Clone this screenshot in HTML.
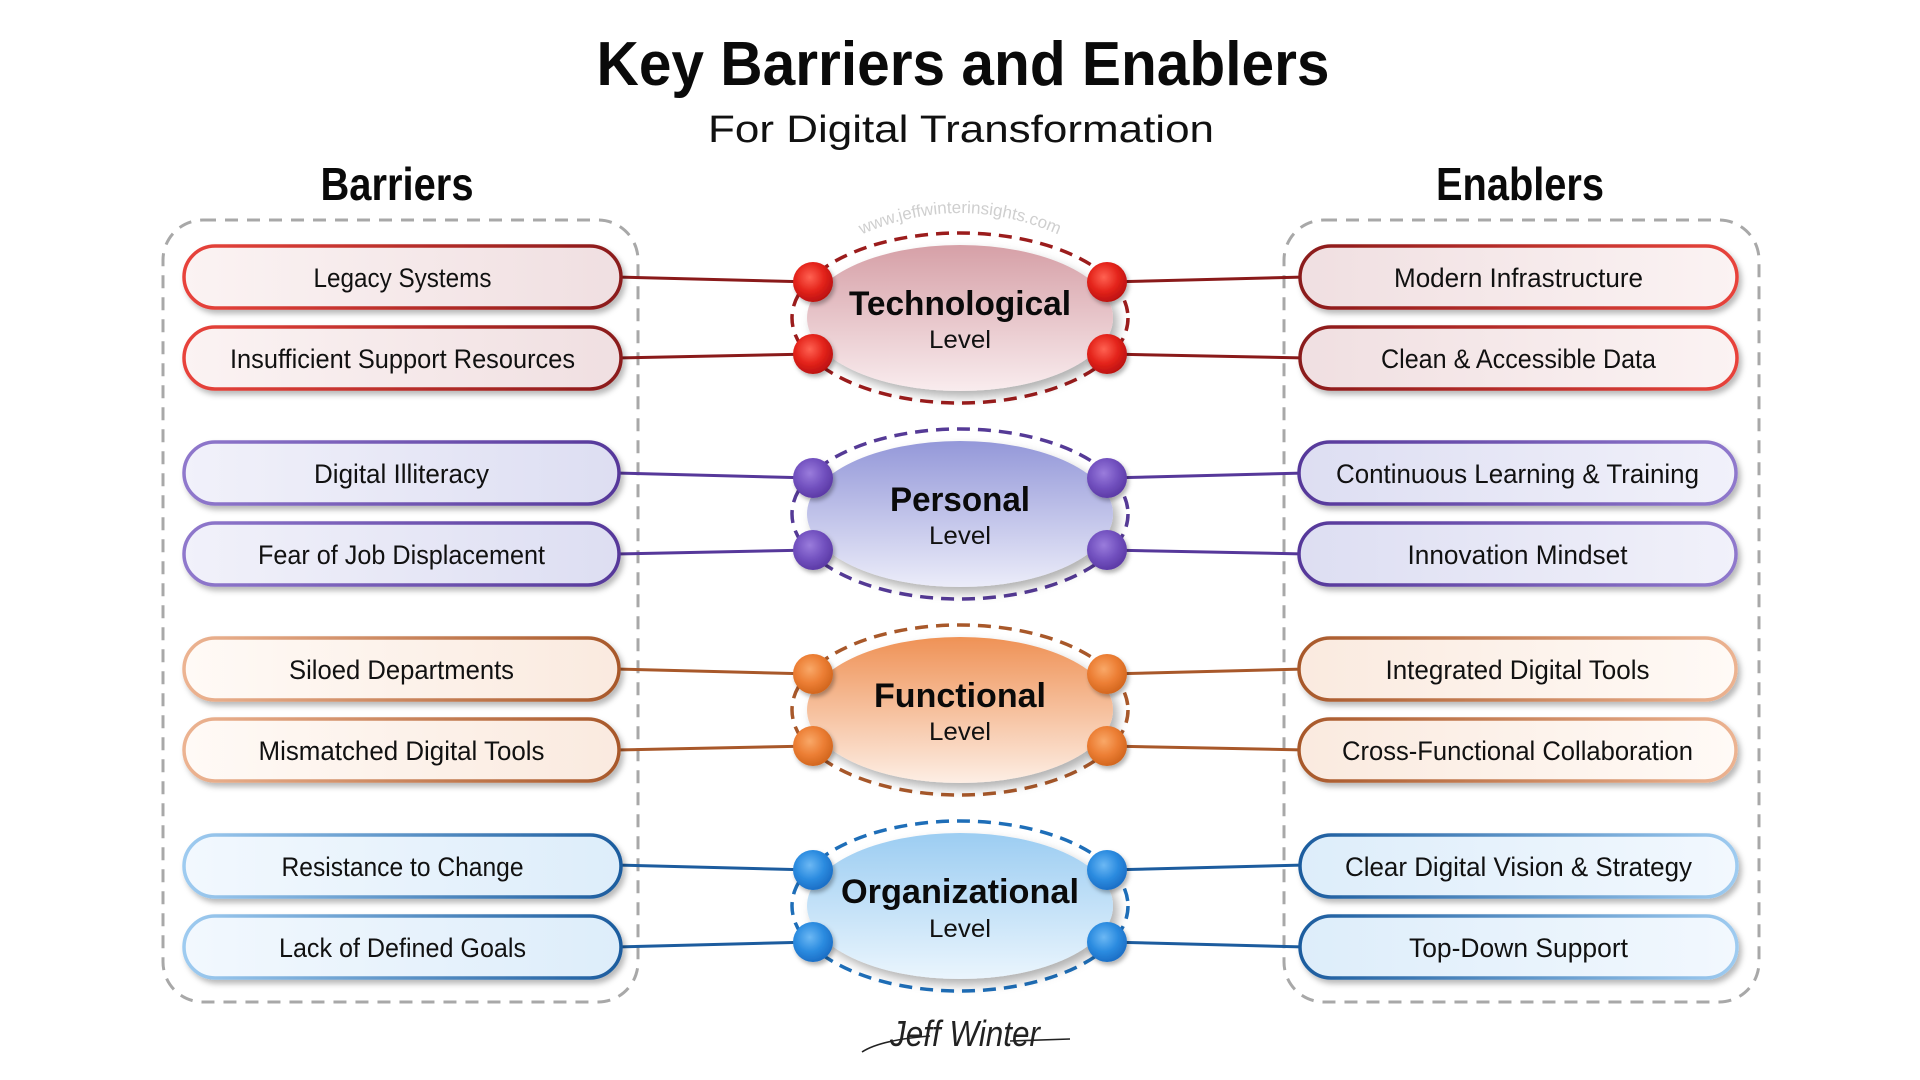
<!DOCTYPE html>
<html><head><meta charset="utf-8"><style>
html,body{margin:0;padding:0;background:#fff;}
svg{display:block;}
text{font-family:"Liberation Sans",sans-serif;}
</style></head><body>
<svg width="1920" height="1080" viewBox="0 0 1920 1080" xmlns="http://www.w3.org/2000/svg">
<defs>
<filter id="sh" x="-10%" y="-30%" width="125%" height="170%"><feDropShadow dx="3" dy="4" stdDeviation="3" flood-color="#000" flood-opacity="0.28"/></filter>
<filter id="esh" x="-10%" y="-20%" width="125%" height="150%"><feDropShadow dx="5" dy="6" stdDeviation="5" flood-color="#000" flood-opacity="0.3"/></filter>
<filter id="bsh" x="-40%" y="-40%" width="190%" height="190%"><feDropShadow dx="2" dy="3" stdDeviation="2" flood-color="#000" flood-opacity="0.3"/></filter>

<linearGradient id="rSL"><stop offset="0" stop-color="#e8433b"/><stop offset="1" stop-color="#8a1a1a"/></linearGradient>
<linearGradient id="rSR"><stop offset="0" stop-color="#8a1a1a"/><stop offset="1" stop-color="#e8433b"/></linearGradient>
<linearGradient id="rFL"><stop offset="0" stop-color="#fbf3f3"/><stop offset="1" stop-color="#f0dfe1"/></linearGradient>
<linearGradient id="rFR"><stop offset="0" stop-color="#f0dfe1"/><stop offset="1" stop-color="#fbf3f3"/></linearGradient>
<linearGradient id="rE" x1="0" y1="0" x2="0" y2="1"><stop offset="0" stop-color="#d6a0a7"/><stop offset="1" stop-color="#f9ecee"/></linearGradient>
<radialGradient id="rB" cx="0.42" cy="0.38" r="0.65"><stop offset="0" stop-color="#ff6252"/><stop offset="0.55" stop-color="#e4241b"/><stop offset="1" stop-color="#b80f0f"/></radialGradient>

<linearGradient id="pSL"><stop offset="0" stop-color="#8f78cc"/><stop offset="1" stop-color="#56389a"/></linearGradient>
<linearGradient id="pSR"><stop offset="0" stop-color="#56389a"/><stop offset="1" stop-color="#8f78cc"/></linearGradient>
<linearGradient id="pFL"><stop offset="0" stop-color="#f1f1fa"/><stop offset="1" stop-color="#dddef2"/></linearGradient>
<linearGradient id="pFR"><stop offset="0" stop-color="#dddef2"/><stop offset="1" stop-color="#f1f1fa"/></linearGradient>
<linearGradient id="pE" x1="0" y1="0" x2="0" y2="1"><stop offset="0" stop-color="#9498d9"/><stop offset="1" stop-color="#ebecf9"/></linearGradient>
<radialGradient id="pB" cx="0.42" cy="0.38" r="0.65"><stop offset="0" stop-color="#9a7cdc"/><stop offset="0.55" stop-color="#7352c0"/><stop offset="1" stop-color="#5a38a4"/></radialGradient>

<linearGradient id="oSL"><stop offset="0" stop-color="#ecb391"/><stop offset="1" stop-color="#a8582a"/></linearGradient>
<linearGradient id="oSR"><stop offset="0" stop-color="#a8582a"/><stop offset="1" stop-color="#ecb391"/></linearGradient>
<linearGradient id="oFL"><stop offset="0" stop-color="#fffaf6"/><stop offset="1" stop-color="#faeadf"/></linearGradient>
<linearGradient id="oFR"><stop offset="0" stop-color="#faeadf"/><stop offset="1" stop-color="#fffaf6"/></linearGradient>
<linearGradient id="oE" x1="0" y1="0" x2="0" y2="1"><stop offset="0" stop-color="#ef9256"/><stop offset="1" stop-color="#fdeee4"/></linearGradient>
<radialGradient id="oB" cx="0.42" cy="0.38" r="0.65"><stop offset="0" stop-color="#f9a868"/><stop offset="0.55" stop-color="#ec7e34"/><stop offset="1" stop-color="#d0641c"/></radialGradient>

<linearGradient id="bSL"><stop offset="0" stop-color="#9ecbf0"/><stop offset="1" stop-color="#1c5c9e"/></linearGradient>
<linearGradient id="bSR"><stop offset="0" stop-color="#1c5c9e"/><stop offset="1" stop-color="#9ecbf0"/></linearGradient>
<linearGradient id="bFL"><stop offset="0" stop-color="#f2f8fe"/><stop offset="1" stop-color="#ddedfa"/></linearGradient>
<linearGradient id="bFR"><stop offset="0" stop-color="#ddedfa"/><stop offset="1" stop-color="#f2f8fe"/></linearGradient>
<linearGradient id="bE" x1="0" y1="0" x2="0" y2="1"><stop offset="0" stop-color="#9ccdf2"/><stop offset="1" stop-color="#eaf5fd"/></linearGradient>
<radialGradient id="bB" cx="0.42" cy="0.38" r="0.65"><stop offset="0" stop-color="#6cb8f4"/><stop offset="0.55" stop-color="#2c8ce0"/><stop offset="1" stop-color="#1a6cc4"/></radialGradient>

<path id="wm" d="M846,242 Q960,184 1074,242"/>
</defs>

<text x="963" y="85" font-size="62" font-weight="bold" text-anchor="middle" textLength="733" lengthAdjust="spacingAndGlyphs" fill="#0a0a0a">Key Barriers and Enablers</text>
<text x="961" y="142" font-size="38" text-anchor="middle" textLength="506" lengthAdjust="spacingAndGlyphs" fill="#111">For Digital Transformation</text>
<text x="397" y="200" font-size="46" font-weight="bold" text-anchor="middle" textLength="153" lengthAdjust="spacingAndGlyphs" fill="#0a0a0a">Barriers</text>
<text x="1520" y="200" font-size="46" font-weight="bold" text-anchor="middle" textLength="168" lengthAdjust="spacingAndGlyphs" fill="#0a0a0a">Enablers</text>

<rect x="163" y="220" width="475" height="782" rx="40" fill="none" stroke="#a8a8a8" stroke-width="3" stroke-dasharray="13 9"/>
<rect x="1284" y="220" width="475" height="782" rx="40" fill="none" stroke="#a8a8a8" stroke-width="3" stroke-dasharray="13 9"/>

<text font-size="17" fill="#cfcfcf"><textPath href="#wm" startOffset="50%" text-anchor="middle">www.jeffwinterinsights.com</textPath></text>

<!-- Technological -->
<g stroke="#8a1a1a" stroke-width="3">
<line x1="615" y1="277" x2="813" y2="282"/><line x1="615" y1="358" x2="813" y2="354"/>
<line x1="1107" y1="282" x2="1306" y2="277"/><line x1="1107" y1="354" x2="1306" y2="358"/>
</g>
<g stroke-width="3.5" filter="url(#sh)">
<rect x="184" y="246" width="437" height="62" rx="31" fill="url(#rFL)" stroke="url(#rSL)"/>
<rect x="184" y="327" width="437" height="62" rx="31" fill="url(#rFL)" stroke="url(#rSL)"/>
<rect x="1300" y="246" width="437" height="62" rx="31" fill="url(#rFR)" stroke="url(#rSR)"/>
<rect x="1300" y="327" width="437" height="62" rx="31" fill="url(#rFR)" stroke="url(#rSR)"/>
</g>
<g font-size="27" fill="#111" text-anchor="middle">
<text x="402.5" y="287" textLength="178" lengthAdjust="spacingAndGlyphs">Legacy Systems</text>
<text x="402.5" y="368" textLength="345" lengthAdjust="spacingAndGlyphs">Insufficient Support Resources</text>
<text x="1518.5" y="287" textLength="249" lengthAdjust="spacingAndGlyphs">Modern Infrastructure</text>
<text x="1518.5" y="368" textLength="275" lengthAdjust="spacingAndGlyphs">Clean &amp; Accessible Data</text>
</g>
<ellipse cx="960" cy="318" rx="168" ry="85" fill="none" stroke="#9b1c1c" stroke-width="3.5" stroke-dasharray="13 8"/>
<ellipse cx="960" cy="318" rx="153" ry="73" fill="url(#rE)" filter="url(#esh)"/>
<g fill="url(#rB)" filter="url(#bsh)">
<circle cx="813" cy="282" r="20"/><circle cx="813" cy="354" r="20"/><circle cx="1107" cy="282" r="20"/><circle cx="1107" cy="354" r="20"/>
</g>
<text x="960" y="315" font-size="34" font-weight="bold" text-anchor="middle" textLength="222" lengthAdjust="spacingAndGlyphs" fill="#0a0a0a">Technological</text>
<text x="960" y="348" font-size="25" text-anchor="middle" textLength="62" lengthAdjust="spacingAndGlyphs" fill="#111">Level</text>

<!-- Personal -->
<g stroke="#56389a" stroke-width="3">
<line x1="615" y1="473" x2="813" y2="478"/><line x1="615" y1="554" x2="813" y2="550"/>
<line x1="1107" y1="478" x2="1306" y2="473"/><line x1="1107" y1="550" x2="1306" y2="554"/>
</g>
<g stroke-width="3.5" filter="url(#sh)">
<rect x="184" y="442" width="435" height="62" rx="31" fill="url(#pFL)" stroke="url(#pSL)"/>
<rect x="184" y="523" width="435" height="62" rx="31" fill="url(#pFL)" stroke="url(#pSL)"/>
<rect x="1299" y="442" width="437" height="62" rx="31" fill="url(#pFR)" stroke="url(#pSR)"/>
<rect x="1299" y="523" width="437" height="62" rx="31" fill="url(#pFR)" stroke="url(#pSR)"/>
</g>
<g font-size="27" fill="#111" text-anchor="middle">
<text x="401.5" y="483" textLength="175" lengthAdjust="spacingAndGlyphs">Digital Illiteracy</text>
<text x="401.5" y="564" textLength="287" lengthAdjust="spacingAndGlyphs">Fear of Job Displacement</text>
<text x="1517.5" y="483" textLength="363" lengthAdjust="spacingAndGlyphs">Continuous Learning &amp; Training</text>
<text x="1517.5" y="564" textLength="220" lengthAdjust="spacingAndGlyphs">Innovation Mindset</text>
</g>
<ellipse cx="960" cy="514" rx="168" ry="85" fill="none" stroke="#553a96" stroke-width="3.5" stroke-dasharray="13 8"/>
<ellipse cx="960" cy="514" rx="153" ry="73" fill="url(#pE)" filter="url(#esh)"/>
<g fill="url(#pB)" filter="url(#bsh)">
<circle cx="813" cy="478" r="20"/><circle cx="813" cy="550" r="20"/><circle cx="1107" cy="478" r="20"/><circle cx="1107" cy="550" r="20"/>
</g>
<text x="960" y="511" font-size="34" font-weight="bold" text-anchor="middle" textLength="140" lengthAdjust="spacingAndGlyphs" fill="#0a0a0a">Personal</text>
<text x="960" y="544" font-size="25" text-anchor="middle" textLength="62" lengthAdjust="spacingAndGlyphs" fill="#111">Level</text>

<!-- Functional -->
<g stroke="#a8582a" stroke-width="3">
<line x1="615" y1="669" x2="813" y2="674"/><line x1="615" y1="750" x2="813" y2="746"/>
<line x1="1107" y1="674" x2="1306" y2="669"/><line x1="1107" y1="746" x2="1306" y2="750"/>
</g>
<g stroke-width="3.5" filter="url(#sh)">
<rect x="184" y="638" width="435" height="62" rx="31" fill="url(#oFL)" stroke="url(#oSL)"/>
<rect x="184" y="719" width="435" height="62" rx="31" fill="url(#oFL)" stroke="url(#oSL)"/>
<rect x="1299" y="638" width="437" height="62" rx="31" fill="url(#oFR)" stroke="url(#oSR)"/>
<rect x="1299" y="719" width="437" height="62" rx="31" fill="url(#oFR)" stroke="url(#oSR)"/>
</g>
<g font-size="27" fill="#111" text-anchor="middle">
<text x="401.5" y="679" textLength="225" lengthAdjust="spacingAndGlyphs">Siloed Departments</text>
<text x="401.5" y="760" textLength="286" lengthAdjust="spacingAndGlyphs">Mismatched Digital Tools</text>
<text x="1517.5" y="679" textLength="264" lengthAdjust="spacingAndGlyphs">Integrated Digital Tools</text>
<text x="1517.5" y="760" textLength="351" lengthAdjust="spacingAndGlyphs">Cross-Functional Collaboration</text>
</g>
<ellipse cx="960" cy="710" rx="168" ry="85" fill="none" stroke="#a8582a" stroke-width="3.5" stroke-dasharray="13 8"/>
<ellipse cx="960" cy="710" rx="153" ry="73" fill="url(#oE)" filter="url(#esh)"/>
<g fill="url(#oB)" filter="url(#bsh)">
<circle cx="813" cy="674" r="20"/><circle cx="813" cy="746" r="20"/><circle cx="1107" cy="674" r="20"/><circle cx="1107" cy="746" r="20"/>
</g>
<text x="960" y="707" font-size="34" font-weight="bold" text-anchor="middle" textLength="172" lengthAdjust="spacingAndGlyphs" fill="#0a0a0a">Functional</text>
<text x="960" y="740" font-size="25" text-anchor="middle" textLength="62" lengthAdjust="spacingAndGlyphs" fill="#111">Level</text>

<!-- Organizational -->
<g stroke="#1c5c9e" stroke-width="3">
<line x1="615" y1="865" x2="813" y2="870"/><line x1="615" y1="947" x2="813" y2="942"/>
<line x1="1107" y1="870" x2="1306" y2="865"/><line x1="1107" y1="942" x2="1306" y2="947"/>
</g>
<g stroke-width="3.5" filter="url(#sh)">
<rect x="184" y="835" width="437" height="62" rx="31" fill="url(#bFL)" stroke="url(#bSL)"/>
<rect x="184" y="916" width="437" height="62" rx="31" fill="url(#bFL)" stroke="url(#bSL)"/>
<rect x="1300" y="835" width="437" height="62" rx="31" fill="url(#bFR)" stroke="url(#bSR)"/>
<rect x="1300" y="916" width="437" height="62" rx="31" fill="url(#bFR)" stroke="url(#bSR)"/>
</g>
<g font-size="27" fill="#111" text-anchor="middle">
<text x="402.5" y="876" textLength="242" lengthAdjust="spacingAndGlyphs">Resistance to Change</text>
<text x="402.5" y="957" textLength="247" lengthAdjust="spacingAndGlyphs">Lack of Defined Goals</text>
<text x="1518.5" y="876" textLength="347" lengthAdjust="spacingAndGlyphs">Clear Digital Vision &amp; Strategy</text>
<text x="1518.5" y="957" textLength="219" lengthAdjust="spacingAndGlyphs">Top-Down Support</text>
</g>
<ellipse cx="960" cy="906" rx="168" ry="85" fill="none" stroke="#1e6eb8" stroke-width="3.5" stroke-dasharray="13 8"/>
<ellipse cx="960" cy="906" rx="153" ry="73" fill="url(#bE)" filter="url(#esh)"/>
<g fill="url(#bB)" filter="url(#bsh)">
<circle cx="813" cy="870" r="20"/><circle cx="813" cy="942" r="20"/><circle cx="1107" cy="870" r="20"/><circle cx="1107" cy="942" r="20"/>
</g>
<text x="960" y="903" font-size="34" font-weight="bold" text-anchor="middle" textLength="238" lengthAdjust="spacingAndGlyphs" fill="#0a0a0a">Organizational</text>
<text x="960" y="937" font-size="25" text-anchor="middle" textLength="62" lengthAdjust="spacingAndGlyphs" fill="#111">Level</text>

<!-- signature -->
<path d="M862,1052 Q880,1040 930,1036 M1010,1041 L1070,1039" fill="none" stroke="#222" stroke-width="1.6"/>
<text x="965" y="1046" font-family="Liberation Serif, serif" font-style="italic" font-size="36" text-anchor="middle" textLength="150" lengthAdjust="spacingAndGlyphs" fill="#222">Jeff Winter</text>
</svg>
</body></html>
